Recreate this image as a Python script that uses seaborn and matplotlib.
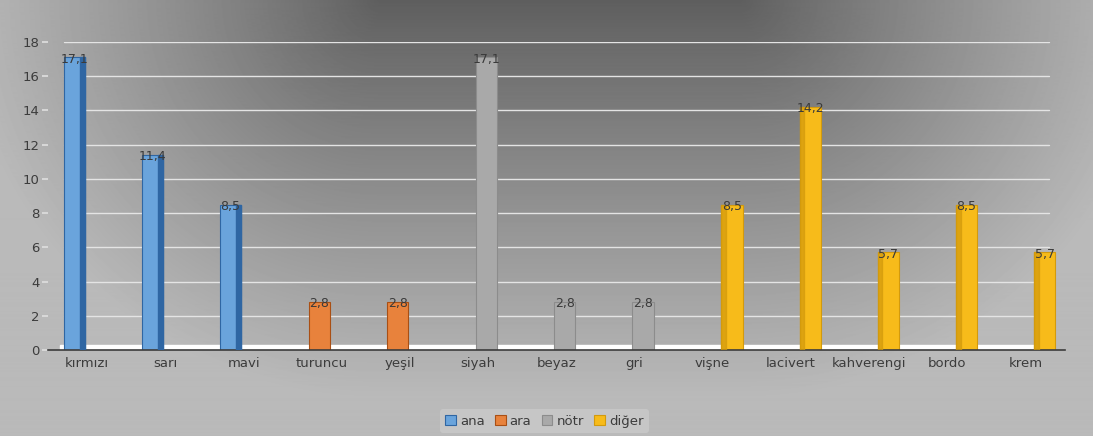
import numpy as np
import pandas as pd
import matplotlib
matplotlib.use("Agg")
import matplotlib.pyplot as plt
import seaborn as sns
from matplotlib.patches import Patch, Rectangle

categories = ["kırmızı", "sarı", "mavi", "turuncu", "yeşil", "siyah", "beyaz", "gri",
              "vişne", "lacivert", "kahverengi", "bordo", "krem"]
values = [17.1, 11.4, 8.5, 2.8, 2.8, 17.1, 2.8, 2.8, 8.5, 14.2, 5.7, 8.5, 5.7]
groups = ["ana", "ana", "ana", "ara", "ara", "nötr", "nötr", "nötr",
          "diğer", "diğer", "diğer", "diğer", "diğer"]
group_order = ["ana", "ara", "nötr", "diğer"]
group_colors = ["#6aa4dc", "#e8823c", "#a9a9a9", "#f7bb1a"]
side_colors = ["#2f66a3", "#a94f14", "#8c8c8c", "#d39a0c"]

df = pd.DataFrame({"renk": categories, "deger": values, "grup": groups})

sns.set_theme(style="white")
plt.rcParams["font.family"] = ["DejaVu Sans"]

fig = plt.figure(figsize=(10.93, 4.36), dpi=100)

# background: dark band at the top centre, lighter towards the sides and bottom
bg = fig.add_axes([0, 0, 1, 1], zorder=-10)
H, W = 436, 1093
yy, xx = np.mgrid[0:H, 0:W]
dx = np.clip((np.abs(xx - 560) - 180) / 420.0, 0, 1)
dy = np.clip(yy / 400.0, 0, 1)
d = np.sqrt(dx ** 2 + dy ** 2)
shade = 0.37 + 0.36 * np.clip(d, 0, 1) ** 0.9
bg.imshow(shade, cmap="gray", vmin=0, vmax=1, aspect="auto", extent=[0, 1, 0, 1])
bg.axis("off")

ax = fig.add_axes([0.044, 0.197, 0.93, 0.707])
ax.set_facecolor("none")

for y in range(2, 19, 2):
    ax.axhline(y, xmin=0.016, xmax=0.985, color="#e4e4e4", lw=1.0, zorder=0)
ax.axhspan(0, 0.3, xmin=0.012, xmax=0.99, color="white", zorder=1)

sns.barplot(data=df, x="renk", y="deger", hue="grup", order=categories,
            hue_order=group_order, palette=group_colors, dodge=True, width=0.55,
            saturation=1, ax=ax, legend=False, zorder=2)

bar_w = 0.27
for cont, side in zip(ax.containers, side_colors):
    for p in cont.patches:
        cx = p.get_x() + p.get_width() / 2 + 0.04
        p.set_x(cx - bar_w / 2)
        p.set_width(bar_w)
        p.set_edgecolor(side)
        p.set_linewidth(0.8)
    ax.bar_label(cont, fmt=lambda v: f"{v:.1f}".replace(".", ","), padding=-6,
                 fontsize=9, color="#3a3a3a", zorder=5)

# darker side faces for the pseudo-3D look
for cont, side, g in zip(ax.containers, side_colors, group_order):
    for p in cont.patches:
        h = p.get_height()
        if g == "ana":
            ax.add_patch(Rectangle((p.get_x() + p.get_width() * 0.78, 0), p.get_width() * 0.22, h,
                                   color=side, zorder=3))
        elif g == "diğer":
            ax.add_patch(Rectangle((p.get_x(), 0), p.get_width() * 0.22, h,
                                   color=side, alpha=0.7, zorder=3))

ax.set_xlim(-0.5, len(categories) - 0.5)
ax.set_ylim(0, 18)
ax.set_yticks(range(0, 19, 2))
ax.set_xlabel("")
ax.set_ylabel("")
for s in ["top", "right", "left"]:
    ax.spines[s].set_visible(False)
ax.spines["bottom"].set_color("#3c3c3c")
ax.spines["bottom"].set_linewidth(1.2)
ax.tick_params(axis="y", labelsize=9.5, colors="#3c3c3c", length=4, left=True,
               color="#dddddd", pad=2)
ax.tick_params(axis="x", labelsize=9.5, colors="#3c3c3c", length=0, pad=5)

handles = [Patch(facecolor=c, edgecolor=s, lw=0.8) for c, s in zip(group_colors, side_colors)]
leg = fig.legend(handles, group_order, loc="center", bbox_to_anchor=(0.498, 0.034), ncol=4,
                 frameon=True, fontsize=9.5, handlelength=0.8, handleheight=0.8,
                 handletextpad=0.3, columnspacing=0.8, borderpad=0.4)
leg.get_frame().set_facecolor("#c6c6c6")
leg.get_frame().set_edgecolor("none")
leg.get_frame().set_alpha(1)
for t in leg.get_texts():
    t.set_color("#3c3c3c")

fig.savefig("out.png", dpi=100)
